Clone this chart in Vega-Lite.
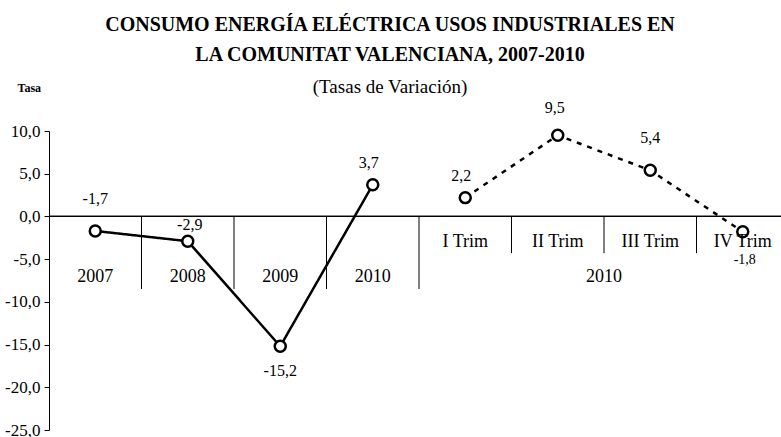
{
  "$schema": "https://vega.github.io/schema/vega-lite/v6.json",
  "width": 732,
  "height": 299,
  "autosize": "none",
  "padding": {"left": 49, "top": 131, "right": 0, "bottom": 7},
  "background": "white",
  "config": {
    "view": {"stroke": null},
    "locale": {"number": {"decimal": ",", "thousands": ".", "grouping": [3], "currency": ["", " €"], "minus": "-"}},
    "text": {"font": "Liberation Serif", "color": "black"},
    "axis": {"labelFont": "Liberation Serif", "titleFont": "Liberation Serif", "labelColor": "black", "titleColor": "black"}
  },
  "title": {
    "text": ["CONSUMO ENERGÍA ELÉCTRICA USOS INDUSTRIALES EN", "LA COMUNITAT VALENCIANA, 2007-2010"],
    "subtitle": "(Tasas de Variación)",
    "font": "Liberation Serif",
    "fontSize": 20,
    "fontWeight": "bold",
    "color": "black",
    "lineHeight": 30,
    "subtitleFont": "Liberation Serif",
    "subtitleFontSize": 19,
    "subtitleColor": "black",
    "subtitlePadding": 13,
    "anchor": "middle",
    "frame": "group",
    "dx": -25,
    "offset": -16
  },
  "data": {
    "values": [
      {"cat": "2007", "value": -1.7, "serie": "Anual"},
      {"cat": "2008", "value": -2.9, "serie": "Anual"},
      {"cat": "2009", "value": -15.2, "serie": "Anual"},
      {"cat": "2010", "value": 3.7, "serie": "Anual"},
      {"cat": "I Trim", "value": 2.2, "serie": "Trimestral"},
      {"cat": "II Trim", "value": 9.5, "serie": "Trimestral"},
      {"cat": "III Trim", "value": 5.4, "serie": "Trimestral"},
      {"cat": "IV Trim", "value": -1.8, "serie": "Trimestral"}
    ]
  },
  "encoding": {
    "x": {"field": "cat", "type": "nominal", "sort": null, "bandPosition": 0.5,
      "scale": {"type": "band", "domain": ["2007", "2008", "2009", "2010", "I Trim", "II Trim", "III Trim", "IV Trim"], "range": [0, 740], "paddingInner": 0, "paddingOuter": 0}, "axis": null},
    "y": {"field": "value", "type": "quantitative",
        "scale": {"domain": [-25, 10], "nice": false, "zero": false},
        "axis": {"values": [-25, -20, -15, -10, -5, 0, 5, 10], "format": ".1f", "grid": false,
          "domainColor": "black", "tickColor": "black", "tickSize": 5,
          "labelFont": "Liberation Serif", "labelFontSize": 17, "labelColor": "black", "labelPadding": 4,
          "title": "Tasa", "titleAngle": 0, "titleFont": "Liberation Serif", "titleFontWeight": "bold",
          "titleFontSize": 12, "titleColor": "black", "titleX": -32, "titleY": -44,
          "titleAlign": "left", "titleBaseline": "middle"}}
  },
  "layer": [
    {
      "mark": {"type": "rule", "color": "black", "strokeWidth": 1},
      "encoding": {"x": null, "y": {"datum": 0, "type": "quantitative"}}
    },
    {
      "transform": [{"filter": "indexof(['2008','2009','2010','I Trim'], datum.cat) >= 0"}],
      "mark": {"type": "rule", "color": "black", "strokeWidth": 1},
      "encoding": {"x": {"field": "cat", "type": "nominal", "sort": null, "bandPosition": 0}, "y": {"datum": 0}, "y2": {"datum": -8.5}}
    },
    {
      "transform": [{"filter": "indexof(['II Trim','III Trim','IV Trim'], datum.cat) >= 0"}],
      "mark": {"type": "rule", "color": "black", "strokeWidth": 1},
      "encoding": {"x": {"field": "cat", "type": "nominal", "sort": null, "bandPosition": 0}, "y": {"datum": 0}, "y2": {"datum": -4.3}}
    },
    {
      "mark": {"type": "line", "color": "black", "strokeWidth": 2.5},
      "encoding": {
        "detail": {"field": "serie"},
        "strokeDash": {"field": "serie", "type": "nominal", "scale": {"domain": ["Anual", "Trimestral"], "range": [[1, 0], [5, 6]]}, "legend": null}
      }
    },
    {
      "mark": {"type": "point", "shape": "circle", "filled": true, "fill": "white", "stroke": "black", "strokeWidth": 2.5, "size": 120, "opacity": 1},
      "encoding": {}
    },
    {
      "transform": [{"filter": "indexof(['2007','III Trim'], datum.cat) >= 0"}],
      "mark": {"type": "text", "font": "Liberation Serif", "fontSize": 16, "dy": -32, "baseline": "middle"},
      "encoding": {"text": {"field": "value", "type": "quantitative", "format": ".1f"}}
    },
    {
      "transform": [{"filter": "indexof(['2010','I Trim'], datum.cat) >= 0"}],
      "mark": {"type": "text", "font": "Liberation Serif", "fontSize": 16, "dy": -22, "dx": -4, "baseline": "middle"},
      "encoding": {"text": {"field": "value", "type": "quantitative", "format": ".1f"}}
    },
    {
      "transform": [{"filter": "datum.cat == 'II Trim'"}],
      "mark": {"type": "text", "font": "Liberation Serif", "fontSize": 16, "dy": -27, "dx": -3, "baseline": "middle"},
      "encoding": {"text": {"field": "value", "type": "quantitative", "format": ".1f"}}
    },
    {
      "transform": [{"filter": "datum.cat == '2008'"}],
      "mark": {"type": "text", "font": "Liberation Serif", "fontSize": 16, "dy": -16, "dx": 2, "baseline": "middle"},
      "encoding": {"text": {"field": "value", "type": "quantitative", "format": ".1f"}}
    },
    {
      "transform": [{"filter": "datum.cat == '2009'"}],
      "mark": {"type": "text", "font": "Liberation Serif", "fontSize": 16, "dy": 25, "baseline": "middle"},
      "encoding": {"text": {"field": "value", "type": "quantitative", "format": ".1f"}}
    },
    {
      "transform": [{"filter": "datum.cat == 'IV Trim'"}],
      "mark": {"type": "text", "font": "Liberation Serif", "fontSize": 14, "dy": 28, "dx": 2, "baseline": "middle"},
      "encoding": {"text": {"field": "value", "type": "quantitative", "format": ".1f"}}
    },
    {
      "transform": [{"filter": "datum.serie == 'Anual'"}],
      "mark": {"type": "text", "font": "Liberation Serif", "fontSize": 18, "baseline": "middle"},
      "encoding": {"y": {"datum": -7.1}, "text": {"field": "cat"}}
    },
    {
      "transform": [{"filter": "datum.serie == 'Trimestral'"}],
      "mark": {"type": "text", "font": "Liberation Serif", "fontSize": 18, "baseline": "middle"},
      "encoding": {"y": {"datum": -3.0}, "text": {"field": "cat"}}
    },
    {
      "transform": [{"filter": "datum.cat == 'III Trim'"}],
      "mark": {"type": "text", "font": "Liberation Serif", "fontSize": 18, "baseline": "middle"},
      "encoding": {"x": {"field": "cat", "type": "nominal", "sort": null, "bandPosition": 0}, "y": {"datum": -7.1}, "text": {"value": "2010"}}
    }
  ]
}
